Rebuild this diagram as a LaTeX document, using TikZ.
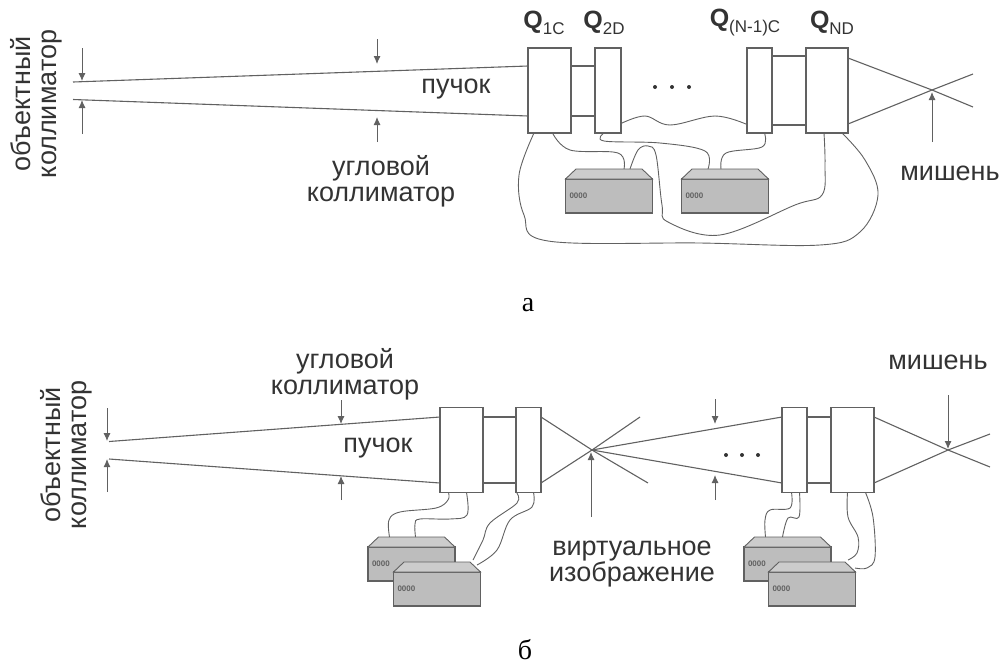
\documentclass[tikz,border=0pt]{standalone}
\usepackage{fontspec}
\usetikzlibrary{arrows.meta}
\setmainfont{Liberation Sans}
\newfontfamily\serifcap{Liberation Serif}

\tikzset{
  beamline/.style={line width=1.1pt, draw=linegray},
  wireline/.style={line width=0.9pt, draw=linegray, smooth, tension=0.6},
  pointer/.style={line width=0.9pt, draw=linegray, -{Latex[length=8pt,width=7pt]}},
  lens/.style={draw=linegray, line width=1.1pt, fill=white, inner sep=0pt, outer sep=0pt},
  supply/.style={draw=linegray, line width=1.1pt, fill=devgray, inner sep=0pt, outer sep=0pt,
    minimum width=87pt, minimum height=34pt, text width=79pt, align=left,
    font=\fontsize{8}{9}\selectfont\bfseries, text=linegray},
  supplytop/.style={draw=linegray, line width=0.9pt, fill=devlight},
  lbl/.style={font=\fontsize{27}{26}\selectfont, text=textgray, inner sep=0pt, align=center},
  qlbl/.style={font=\fontsize{17}{18}\selectfont, text=textgray, inner sep=0pt},
  caplbl/.style={font=\fontsize{28}{30}\selectfont\serifcap, inner sep=0pt}
}
\definecolor{linegray}{gray}{0.38}
\definecolor{textgray}{gray}{0.2}
\definecolor{devgray}{gray}{0.74}
\definecolor{devlight}{gray}{0.8}
\newcommand{\qname}[2]{{\fontsize{25}{25}\selectfont\bfseries #1}\raisebox{-6pt}{#2}}

\begin{document}
\begin{tikzpicture}[x=1pt, y=-1pt]
\useasboundingbox (0,0) rectangle (1003,667);

% Focusing lenses
\foreach \lname/\lx/\ly/\lw in {qa/549.5/90.5/43, qb/608/90.5/26, qc/759.5/90.5/25, qd/827/90.5/42,
                                qe/461.5/450/43, qf/528.5/450/25, qg/794.5/450/25, qh/852.5/450/43} {
  \node[lens, minimum width=\lw pt, minimum height=85pt] (\lname) at (\lx,\ly) {};
}

% Beam crossings
\coordinate (crossA) at (932,90);
\coordinate (crossB) at (592,450);
\coordinate (crossC) at (948,450);

% Upper row: beam
\coordinate (srcAu) at (73,82);
\coordinate (srcAl) at (73,99.5);
\coordinate (endAu) at (973,74);
\coordinate (endAl) at (973,107);
\draw[beamline] (srcAu) -- ([yshift=24.5pt]qa.west);
\draw[beamline] (srcAl) -- ([yshift=-25.5pt]qa.west);
\draw[beamline] ([yshift=24.5pt]qa.east) -- ([yshift=24.5pt]qb.west);
\draw[beamline] ([yshift=-25.5pt]qa.east) -- ([yshift=-25.5pt]qb.west);
\draw[beamline] ([yshift=34.5pt]qc.east) -- ([yshift=34.5pt]qd.west);
\draw[beamline] ([yshift=-34.5pt]qc.east) -- ([yshift=-34.5pt]qd.west);
\draw[beamline] ([yshift=32.5pt]qd.east) -- (crossA) -- (endAl);
\draw[beamline] ([yshift=-33.5pt]qd.east) -- (crossA) -- (endAu);

% Lower row: beam
\coordinate (srcBu) at (109,441.5);
\coordinate (srcBl) at (109,459);
\coordinate (endBu) at (640,417);
\coordinate (endBl) at (648,483);
\coordinate (endCu) at (990,434);
\coordinate (endCl) at (990,467);
\draw[beamline] (srcBu) -- ([yshift=33pt]qe.west);
\draw[beamline] (srcBl) -- ([yshift=-33pt]qe.west);
\draw[beamline] ([yshift=33pt]qe.east) -- ([yshift=33pt]qf.west);
\draw[beamline] ([yshift=-33pt]qe.east) -- ([yshift=-33pt]qf.west);
\draw[beamline] ([yshift=33pt]qf.east) -- (crossB) -- (endBl);
\draw[beamline] ([yshift=-33pt]qf.east) -- (crossB) -- (endBu);
\draw[beamline] (crossB) -- ([yshift=33pt]qg.west);
\draw[beamline] (crossB) -- ([yshift=-33pt]qg.west);
\draw[beamline] ([yshift=33pt]qg.east) -- ([yshift=33pt]qh.west);
\draw[beamline] ([yshift=-33pt]qg.east) -- ([yshift=-33pt]qh.west);
\draw[beamline] ([yshift=33pt]qh.east) -- (crossC) -- (endCl);
\draw[beamline] ([yshift=-33pt]qh.east) -- (crossC) -- (endCu);

% Pointers
\foreach \pname/\xs/\ys/\ye in {pa/82/48/81, pb/82/134/100, pc/377/39/64, pd/377/142/117, pe/932/142/92,
                                pf/107/408/441, pg/107/492/459, ph/341/400/424, pi/341/500/476,
                                pj/591/517/452, pk/715/399/424, pl/715/500/475, pm/948/395/449} {
  \coordinate (\pname s) at (\xs,\ys);
  \coordinate (\pname e) at (\xs,\ye);
  \draw[pointer] (\pname s) -- (\pname e);
}

% Power supplies
\foreach \dname/\dx/\dy/\dt in {da/609/196/0000, db/725/196/0000, dc/411.5/564/0000, dd/437/589/0000,
                                de/787.5/564/0000, df/812/589/0000} {
  \node[supply] (\dname) at (\dx,\dy) {\dt};
  \coordinate (\dname t) at ([yshift=10pt]\dname.north);
  \draw[supplytop] (\dname.north west) -- ([xshift=-33pt]\dname t) -- ([xshift=33pt]\dname t) -- (\dname.north east) -- cycle;
}

% Cables, upper row
\draw[wireline] plot coordinates {([xshift=6pt]qa.south west) (519,175) (524,215) (548,241) (700,243) (820,245) (860,232) (878,195) (865,160) ([xshift=-6pt]qd.south east)};
\draw[wireline] plot coordinates {([xshift=3pt]qa.south) (570,150) (618,153) ([xshift=15pt]dat)};
\draw[wireline] plot coordinates {([xshift=21pt]dat) (638,150) (648,146) (656,155) (662,205) (668,222) (720,235) (795,205) (822,195) (825,165) ([xshift=-3pt]qd.south)};
\draw[wireline] plot coordinates {([xshift=-4pt]qb.south) (604,141) (660,143) (705,151) ([xshift=-17pt]dbt)};
\draw[wireline] plot coordinates {([xshift=-4pt]dbt) (726,153) (762,147) ([xshift=5pt]qc.south)};
\draw[wireline] plot coordinates {([yshift=-33pt]qb.east) (645,116) (670,125) (715,116) ([yshift=-34pt]qc.west)};

% Cables, lower row
\draw[wireline] plot coordinates {([xshift=-13pt]qe.south) (448,500) (436,508) (400,512) (389,520) ([xshift=-22pt]dct)};
\draw[wireline] plot coordinates {([xshift=5pt]qe.south) (467,515) (450,519) (420,519) (415,524) ([xshift=4pt]dct)};
\draw[wireline] plot coordinates {([xshift=-12pt]qf.south) (517,503) (490,523) (483,540) (473,560)};
\draw[wireline] plot coordinates {([xshift=5pt]qf.south) (532,507) (510,520) (497,550) (477,565)};
\draw[wireline] plot coordinates {([xshift=-3pt]qg.south) (790,508) (770,510) (765,520) ([xshift=-22pt]det)};
\draw[wireline] plot coordinates {([xshift=5pt]qg.south) (799,517) (788,518) ([xshift=-5pt]det)};
\draw[wireline] plot coordinates {([xshift=-5pt]qh.south) (848,517) (858,537) (857,553) (848,560)};
\draw[wireline] plot coordinates {([xshift=13pt]qh.south) (873,517) (875,557) (867,568) (855,568)};

% Lens names
\node[qlbl] (nqa) at (544,23) {\qname{Q}{1C}};
\node[qlbl] (nqb) at (604,23) {\qname{Q}{2D}};
\node[qlbl] (nqc) at (745,23) {\qname{Q}{(N-1)C}};
\node[qlbl] (nqd) at (832,23) {\qname{Q}{ND}};

% Dots
\foreach \dotname/\dotx/\doty in {oa/655/87, ob/672/87, oc/689/87, od/726/455, oe/742/455, of/758/455} {
  \fill[textgray] (\dotx,\doty) circle (2pt) coordinate (\dotname);
}

% Labels
\node[lbl, rotate=90] (ta) at (36,104) {объектный\\коллиматор};
\node[lbl] (tc) at (456,89) {пучок};
\node[lbl] (td) at (381,181) {угловой\\коллиматор};
\node[lbl] (tf) at (950,173) {мишень};
\node[caplbl] (tg) at (528,305) {а};
\node[lbl, rotate=90] (th) at (66,455) {объектный\\коллиматор};
\node[lbl] (tj) at (345,374) {угловой\\коллиматор};
\node[lbl] (tl) at (378,448) {пучок};
\node[lbl] (tm) at (938,362) {мишень};
\node[lbl] (tn) at (632,564) {виртуальное\\изображение};
\node[caplbl] (tp) at (525,650) {б};

\end{tikzpicture}
\end{document}
